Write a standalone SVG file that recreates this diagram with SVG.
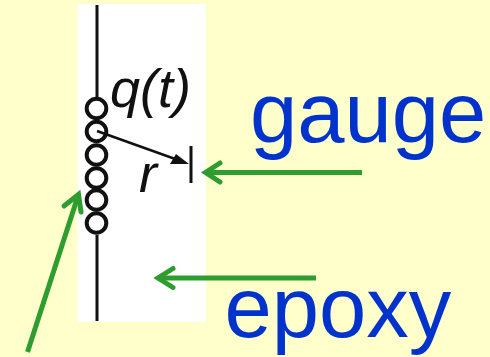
<svg xmlns="http://www.w3.org/2000/svg" width="490" height="357" viewBox="0 0 490 357">
<style>
.blk{fill:none;stroke:#111;stroke-width:3}
.coil{fill:none;stroke:#111;stroke-width:4}
.grn{fill:none;stroke:#2e9c2e;stroke-width:5}
.hd{fill:none;stroke:#2e9c2e;stroke-width:5;stroke-linecap:round;stroke-linejoin:miter}
.lbl{font-family:"Liberation Sans",Arial,sans-serif;font-size:85px;fill:#0033cc}
.sym{font-family:"Liberation Sans",Arial,sans-serif;font-style:italic;font-size:54px;fill:#111}
</style>
<rect width="490" height="357" fill="#ffffcc"/>
<g id="epoxy-block"><rect x="77.500" y="4" width="128.500" height="318" fill="#fff"/></g>
<g id="wire">
<path class="blk" d="M97 5V98M97 235V321"/>
<circle class="coil" cx="96.500" cy="108.500" r="9.800"/>
<circle class="coil" cx="96.500" cy="131.500" r="9.800"/>
<circle class="coil" cx="96.500" cy="155" r="9.800"/>
<circle class="coil" cx="96.500" cy="178" r="9.800"/>
<circle class="coil" cx="96.500" cy="200" r="9.800"/>
<circle class="coil" cx="96.500" cy="223" r="9.800"/>
</g>
<g id="radius">
<path d="M97 131L178 160" fill="none" stroke="#111" stroke-width="2.500"/>
<path d="M189 164L170 164L176 154Z" fill="#111"/>
<path class="blk" d="M191 146V183"/>
<text class="sym" x="110" y="107">q(t)</text>
<text class="sym" x="139" y="192">r</text>
</g>
<g id="gauge"><text class="lbl" x="250" y="142">gauge</text></g>
<g id="epoxy"><text class="lbl" x="224.500" y="337">epoxy</text></g>
<g id="connectors">
<path class="grn" d="M362 172.500H206"/><path class="hd" d="M220 163L205.500 172.500L220 182"/>
<path class="grn" d="M316 278H159"/><path class="hd" d="M173 268.500L158 278L173 287.500"/>
<path class="grn" d="M27.500 352L78 196"/><path class="hd" d="M64 206L78.500 194.500L81 212"/>
</g>
</svg>
